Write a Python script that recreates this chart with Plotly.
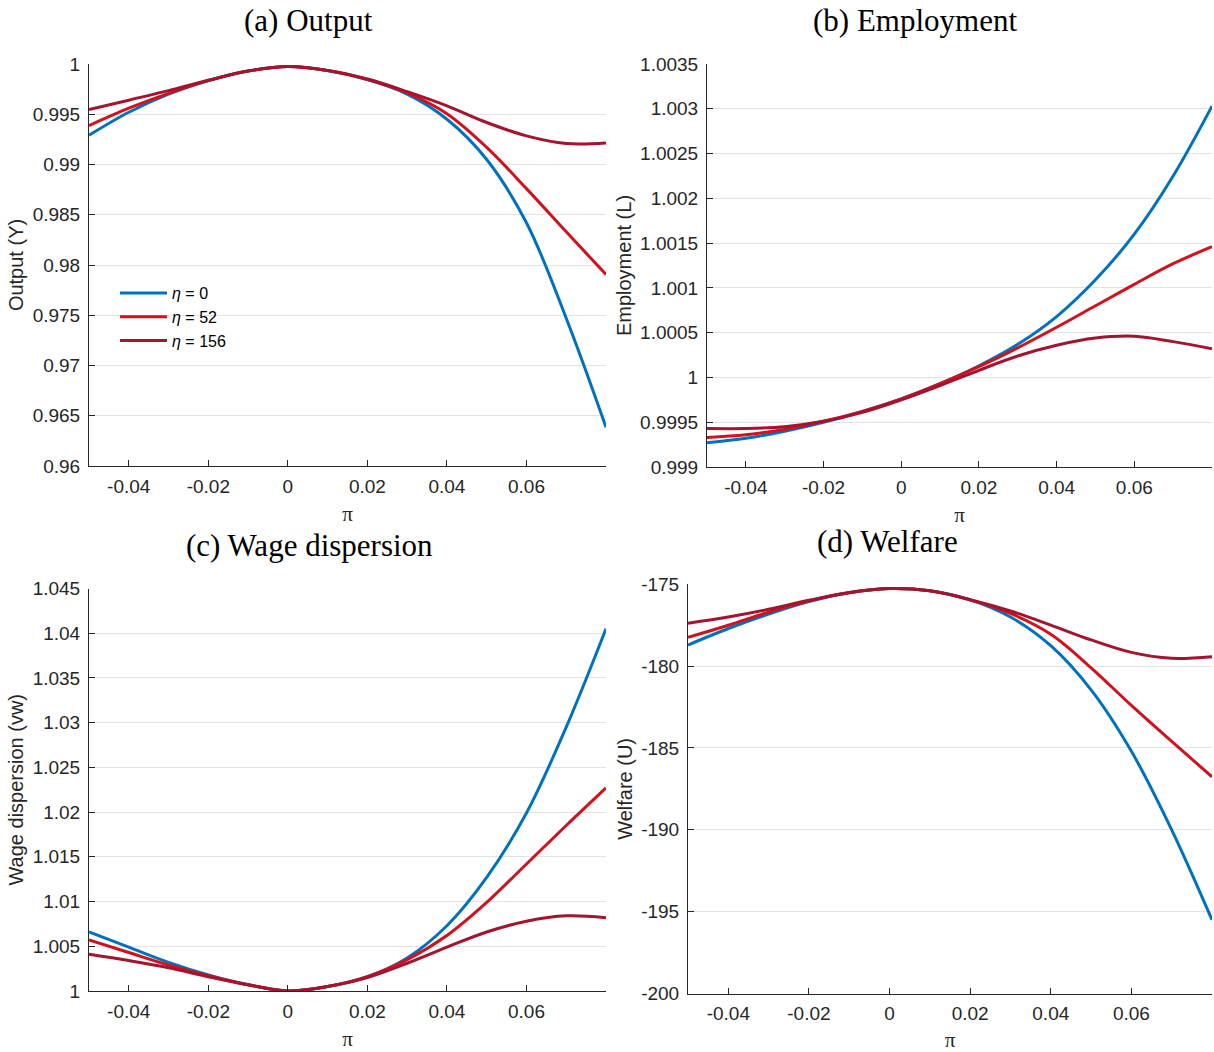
import plotly.graph_objects as go

# ---------------- data ----------------
pi_grid = [-0.05, -0.04, -0.03, -0.02, -0.01, 0.0, 0.01, 0.02, 0.03, 0.04, 0.05, 0.06, 0.07, 0.08]

series_names = ["<i>η</i> = 0", "<i>η</i> = 52", "<i>η</i> = 156"]
series_colors = ["#0072BD", "#D0111E", "#A2142F"]

output_eta0   = [0.99291, 0.99520, 0.99700, 0.99836, 0.99929, 0.99975, 0.99934, 0.99844, 0.99700, 0.99450, 0.99050, 0.98420, 0.97470, 0.96386]
output_eta52  = [0.99387, 0.99560, 0.99708, 0.99834, 0.99930, 0.99975, 0.99935, 0.99846, 0.99712, 0.99505, 0.99170, 0.98760, 0.98330, 0.97906]
output_eta156 = [0.99546, 0.99640, 0.99735, 0.99838, 0.99930, 0.99975, 0.99936, 0.99850, 0.99725, 0.99584, 0.99418, 0.99285, 0.99209, 0.99215]

empl_eta0   = [0.99927, 0.99932, 0.99940, 0.99950, 0.99962, 0.99976, 0.99993, 1.00013, 1.00037, 1.00068, 1.00109, 1.00160, 1.00225, 1.00303]
empl_eta52  = [0.99933, 0.99936, 0.99942, 0.99951, 0.99962, 0.99976, 0.99993, 1.00012, 1.00033, 1.00056, 1.00080, 1.00104, 1.00127, 1.00146]
empl_eta156 = [0.99943, 0.99943, 0.99945, 0.99951, 0.99961, 0.99975, 0.99991, 1.00008, 1.00024, 1.00036, 1.00044, 1.00046, 1.00040, 1.00032]

wage_eta0   = [1.0066, 1.0049, 1.0032, 1.0018, 1.0007, 1.0000, 1.0005, 1.0016, 1.0037, 1.0073, 1.0127, 1.0199, 1.0295, 1.0405]
wage_eta52  = [1.0057, 1.0043, 1.0029, 1.0017, 1.0007, 1.0000, 1.0005, 1.0016, 1.0035, 1.0062, 1.0099, 1.0142, 1.0185, 1.0227]
wage_eta156 = [1.0041, 1.0034, 1.0026, 1.0016, 1.0007, 1.0000, 1.0005, 1.0015, 1.0031, 1.0049, 1.0066, 1.0078, 1.0084, 1.0082]

welf_eta0   = [-178.71, -177.70, -176.82, -176.06, -175.52, -175.26, -175.40, -175.95, -177.00, -178.75, -181.45, -185.20, -190.00, -195.50]
welf_eta52  = [-178.24, -177.50, -176.70, -176.02, -175.52, -175.26, -175.40, -175.95, -176.78, -178.05, -180.10, -182.40, -184.60, -186.76]
welf_eta156 = [-177.38, -177.00, -176.53, -175.98, -175.50, -175.26, -175.40, -175.94, -176.63, -177.49, -178.40, -179.16, -179.52, -179.42]

panel_titles = ["(a) Output", "(b) Employment", "(c) Wage dispersion", "(d) Welfare"]
y_titles = ["Output (Y)", "Employment (L)", "Wage dispersion (vw)", "Welfare (U)"]
x_title = "π"

x_tickvals = [-0.04, -0.02, 0, 0.02, 0.04, 0.06]
x_ticktext = ["-0.04", "-0.02", "0", "0.02", "0.04", "0.06"]

ya_tickvals = [0.96, 0.965, 0.97, 0.975, 0.98, 0.985, 0.99, 0.995, 1.0]
ya_ticktext = ["0.96", "0.965", "0.97", "0.975", "0.98", "0.985", "0.99", "0.995", "1"]
yb_tickvals = [0.999, 0.9995, 1.0, 1.0005, 1.001, 1.0015, 1.002, 1.0025, 1.003, 1.0035]
yb_ticktext = ["0.999", "0.9995", "1", "1.0005", "1.001", "1.0015", "1.002", "1.0025", "1.003", "1.0035"]
yc_tickvals = [1.0, 1.005, 1.01, 1.015, 1.02, 1.025, 1.03, 1.035, 1.04, 1.045]
yc_ticktext = ["1", "1.005", "1.01", "1.015", "1.02", "1.025", "1.03", "1.035", "1.04", "1.045"]
yd_tickvals = [-200, -195, -190, -185, -180, -175]
yd_ticktext = ["-200", "-195", "-190", "-185", "-180", "-175"]

# ---------------- figure ----------------
W, H = 1214, 1052
fig = go.Figure()

panels = [
    (["x", "y"], [output_eta0, output_eta52, output_eta156]),
    (["x2", "y2"], [empl_eta0, empl_eta52, empl_eta156]),
    (["x3", "y3"], [wage_eta0, wage_eta52, wage_eta156]),
    (["x4", "y4"], [welf_eta0, welf_eta52, welf_eta156]),
]
for p_idx, ((xa, ya), ser) in enumerate(panels):
    for k, vals in enumerate(ser):
        fig.add_trace(go.Scatter(
            x=pi_grid, y=vals, xaxis=xa, yaxis=ya, mode="lines",
            line=dict(color=series_colors[k], width=3, shape="spline", smoothing=1.0),
            name=series_names[k], showlegend=(p_idx == 0), hoverinfo="skip",
        ))

def px_x(p):
    return p / W

def px_y(p):
    return 1 - p / H

axis_col = "#262626"
tick_font = dict(family="Liberation Sans, Arial, sans-serif", size=19, color=axis_col)

def xaxis_cfg(l, r, anchor):
    return dict(domain=[px_x(l), px_x(r)], range=[-0.05, 0.08], anchor=anchor, automargin=False,
                tickvals=x_tickvals, ticktext=x_ticktext, ticks="inside", ticklen=6,
                tickcolor=axis_col, showline=True, linecolor=axis_col, linewidth=1,
                showgrid=False, zeroline=False, tickfont=tick_font, ticklabelstandoff=3,
                title=dict(text=x_title, font=dict(family="Liberation Serif, serif", size=21, color=axis_col),
                           standoff=10))

def yaxis_cfg(t, b, anchor, rng, tv, tt, title):
    return dict(domain=[px_y(b), px_y(t)], range=rng, anchor=anchor, automargin=False,
                tickvals=tv, ticktext=tt, ticks="inside", ticklen=6, tickcolor=axis_col,
                showline=True, linecolor=axis_col, linewidth=1,
                showgrid=True, gridcolor="#E3E3E3", gridwidth=1, zeroline=False,
                tickfont=tick_font, ticklabelstandoff=4,
                title=dict(text=title, font=dict(family="Liberation Sans, Arial, sans-serif", size=20, color=axis_col),
                           standoff=3))

fig.update_layout(
    width=W, height=H, margin=dict(l=0, r=0, t=0, b=0, autoexpand=False),
    paper_bgcolor="white", plot_bgcolor="white",
    xaxis=xaxis_cfg(89, 606, "y"),
    yaxis=yaxis_cfg(64, 466, "x", [0.96, 1.0], ya_tickvals, ya_ticktext, y_titles[0]),
    xaxis2=xaxis_cfg(707, 1212, "y2"),
    yaxis2=yaxis_cfg(64, 467, "x2", [0.999, 1.0035], yb_tickvals, yb_ticktext, y_titles[1]),
    xaxis3=xaxis_cfg(89, 606, "y3"),
    yaxis3=yaxis_cfg(588.5, 991, "x3", [1.0, 1.045], yc_tickvals, yc_ticktext, y_titles[2]),
    xaxis4=xaxis_cfg(688, 1212, "y4"),
    yaxis4=yaxis_cfg(584.3, 993.5, "x4", [-200, -175], yd_tickvals, yd_ticktext, y_titles[3]),
    legend=dict(x=px_x(115), y=px_y(276), xanchor="left", yanchor="top",
                bgcolor="rgba(0,0,0,0)", borderwidth=0,
                font=dict(family="Liberation Sans, Arial, sans-serif", size=16, color="#000000"),
                itemwidth=47, tracegroupgap=0),
    showlegend=True,
)

title_pos = [(308, 21), (915, 21), (309, 545), (887, 541)]
for (cx, cy), t in zip(title_pos, panel_titles):
    fig.add_annotation(text=t, x=px_x(cx), y=px_y(cy), xref="paper", yref="paper",
                       xanchor="center", yanchor="middle", showarrow=False,
                       font=dict(family="Liberation Serif, Times New Roman, serif", size=31, color="#000000"))

fig.write_html("out.html")
